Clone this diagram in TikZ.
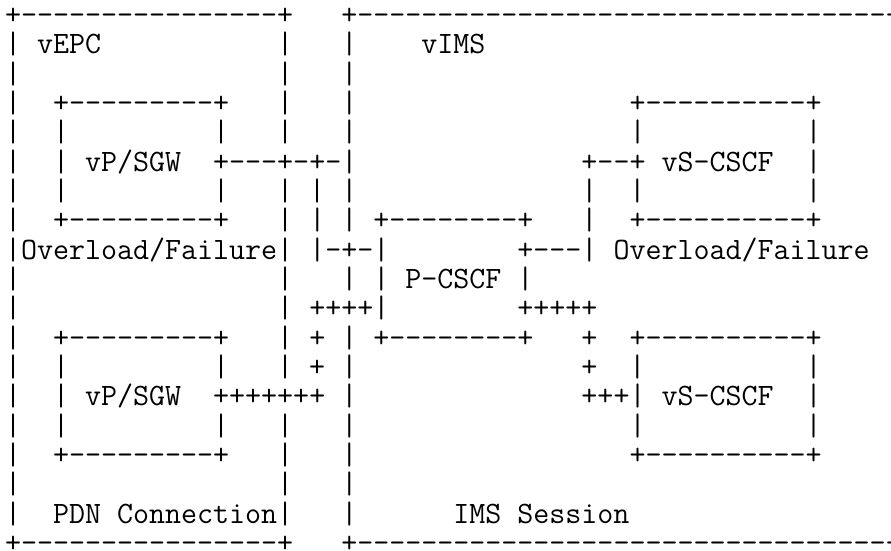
\documentclass[tikz,border=0pt]{standalone}
\usepackage{fontspec}
\setmonofont{Latin Modern Mono}
% \blankcols{n}: n empty character cells of the typewriter font
\ExplSyntaxOn
\cs_new:Npn \blankcols #1 { \prg_replicate:nn {#1} { \nobreakspace } }
\ExplSyntaxOff
\begin{document}
\begin{tikzpicture}[x=0.75pt,y=-0.75pt,
  asciirow/.style={anchor=base west, inner sep=0pt, outer sep=0pt,
    font=\ttfamily\fontsize{23.32pt}{29pt}\selectfont}]
\fill[white] (0,0) rectangle (891,550);
\useasboundingbox (0,0) rectangle (891,550);
% one node per text row, 29.33px apart, columns 16.04px wide
\node[asciirow] (row1)  at (5,24.60)  {+----------------+\blankcols{3}+-----------------------------------};
\node[asciirow] (row2)  at (5,53.93)  {|\blankcols{1}vEPC\blankcols{11}|\blankcols{3}|\blankcols{4}vIMS};
\node[asciirow] (row3)  at (5,83.26)  {|\blankcols{16}|\blankcols{3}|};
\node[asciirow] (row4)  at (5,112.59) {|\blankcols{2}+---------+\blankcols{3}|\blankcols{3}|\blankcols{17}+----------+};
\node[asciirow] (row5)  at (5,141.92) {|\blankcols{2}|\blankcols{9}|\blankcols{3}|\blankcols{3}|\blankcols{17}|\blankcols{10}|};
\node[asciirow] (row6)  at (5,171.25) {|\blankcols{2}|\blankcols{1}vP/SGW\blankcols{2}+---+-+-|\blankcols{14}+--+\blankcols{1}vS-CSCF\blankcols{2}|};
\node[asciirow] (row7)  at (5,200.58) {|\blankcols{2}|\blankcols{9}|\blankcols{3}|\blankcols{1}|\blankcols{1}|\blankcols{14}|\blankcols{2}|\blankcols{10}|};
\node[asciirow] (row8)  at (5,229.91) {|\blankcols{2}+---------+\blankcols{3}|\blankcols{1}|\blankcols{1}|\blankcols{1}+--------+\blankcols{3}|\blankcols{2}+----------+};
\node[asciirow] (row9)  at (5,259.24) {|Overload/Failure|\blankcols{1}|-+-|\blankcols{8}+---|\blankcols{1}Overload/Failure};
\node[asciirow] (row10) at (5,288.57) {|\blankcols{16}|\blankcols{3}|\blankcols{1}|\blankcols{1}P-CSCF\blankcols{1}|};
\node[asciirow] (row11) at (5,317.90) {|\blankcols{16}|\blankcols{1}++++|\blankcols{8}+++++};
\node[asciirow] (row12) at (5,347.23) {|\blankcols{2}+---------+\blankcols{3}|\blankcols{1}+\blankcols{1}|\blankcols{1}+--------+\blankcols{3}+\blankcols{2}+----------+};
\node[asciirow] (row13) at (5,376.56) {|\blankcols{2}|\blankcols{9}|\blankcols{3}|\blankcols{1}+\blankcols{1}|\blankcols{14}+\blankcols{2}|\blankcols{10}|};
\node[asciirow] (row14) at (5,405.89) {|\blankcols{2}|\blankcols{1}vP/SGW\blankcols{2}+++++++\blankcols{1}|\blankcols{14}+++|\blankcols{1}vS-CSCF\blankcols{2}|};
\node[asciirow] (row15) at (5,435.22) {|\blankcols{2}|\blankcols{9}|\blankcols{3}|\blankcols{3}|\blankcols{17}|\blankcols{10}|};
\node[asciirow] (row16) at (5,464.55) {|\blankcols{2}+---------+\blankcols{3}|\blankcols{3}|\blankcols{17}+----------+};
\node[asciirow] (row17) at (5,493.88) {|\blankcols{16}|\blankcols{3}|};
\node[asciirow] (row18) at (5,523.21) {|\blankcols{2}PDN Connection|\blankcols{3}|\blankcols{6}IMS Session};
\node[asciirow] (row19) at (5,552.54) {+----------------+\blankcols{3}+-----------------------------------};
\end{tikzpicture}
\end{document}
